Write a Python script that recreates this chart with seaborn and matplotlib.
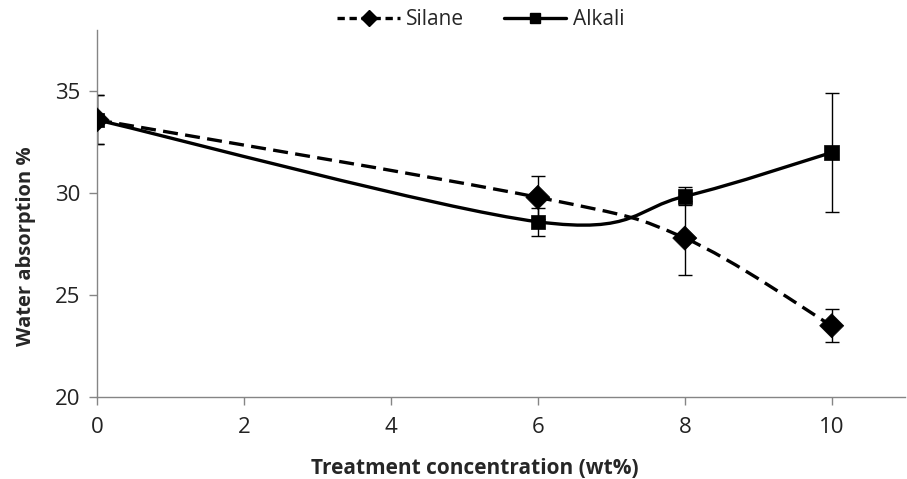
import numpy as np
import pandas as pd
import matplotlib
matplotlib.use("Agg")
import matplotlib.pyplot as plt
from matplotlib.path import Path
from matplotlib.patches import PathPatch
from matplotlib.lines import Line2D
import seaborn as sns

# Data
concentration = [0, 6, 8, 10]
silane = [33.6, 29.8, 27.8, 23.5]
silane_err = [1.2, 1.05, 1.8, 0.8]
alkali = [33.6, 28.6, 29.85, 32.0]
alkali_err = [1.2, 0.7, 0.45, 2.9]
xticks = [0, 2, 4, 6, 8, 10]
yticks = [20, 25, 30, 35]

sns.set_theme(style="white")
plt.rcParams["font.family"] = ["Open Sans", "DejaVu Sans"]

AXIS_GREY = "#858585"


def smooth_path(xs, ys):
    # Excel style smoothed line: cubic bezier with 1/6 tangent control points
    pts = np.column_stack([xs, ys]).astype(float)
    n = len(pts)
    verts = [pts[0]]
    codes = [Path.MOVETO]
    for i in range(n - 1):
        p_prev = pts[max(i - 1, 0)]
        p0, p1 = pts[i], pts[i + 1]
        p_next = pts[min(i + 2, n - 1)]
        c1 = p0 + (p1 - p_prev) / 6.0
        c2 = p1 - (p_next - p0) / 6.0
        verts += [c1, c2, p1]
        codes += [Path.CURVE4] * 3
    return Path(verts, codes)


fig, ax = plt.subplots(figsize=(9.07, 4.79), dpi=100)
fig.subplots_adjust(left=0.107, right=0.998, bottom=0.171, top=0.937)

series = [
    ("Silane", silane, silane_err, (0, (4.5, 2.2))),
    ("Alkali", alkali, alkali_err, "-"),
]

for name, vals, err, ls in series:
    ax.errorbar(concentration, vals, yerr=err, fmt="none", ecolor="black",
                elinewidth=1.0, capsize=5, capthick=1.0, zorder=2)
    patch = PathPatch(smooth_path(concentration, vals), facecolor="none",
                      edgecolor="black", lw=2.4, linestyle=ls, zorder=3)
    ax.add_patch(patch)

df = pd.DataFrame({
    "x": concentration * 2,
    "y": silane + alkali,
    "series": ["Silane"] * 4 + ["Alkali"] * 4,
})
sns.scatterplot(data=df, x="x", y="y", style="series",
                markers={"Silane": "D", "Alkali": "s"},
                size="series", sizes={"Silane": 150, "Alkali": 110},
                color="black", edgecolor="black", linewidth=0.5,
                legend=False, ax=ax, zorder=4)

ax.set_xlim(0, 11)
ax.set_ylim(20, 38)
ax.set_xticks(xticks)
ax.set_yticks(yticks)
ax.tick_params(axis="both", which="major", direction="out", length=6,
               width=1.0, color=AXIS_GREY, labelsize=16, labelcolor="#222222",
               bottom=True, left=True)
ax.tick_params(axis="x", pad=8)
ax.tick_params(axis="y", pad=6)
for side in ["top", "right"]:
    ax.spines[side].set_visible(False)
for side in ["left", "bottom"]:
    ax.spines[side].set_color(AXIS_GREY)
    ax.spines[side].set_linewidth(1.0)

ax.set_xlabel("Treatment concentration (wt%)", fontsize=15, fontweight="bold")
ax.set_ylabel("Water absorption %", fontsize=14.5, fontweight="bold")
ax.xaxis.set_label_coords(0.468, -0.165)
ax.yaxis.set_label_coords(-0.076, 0.41)
ax.grid(False)

handles = [
    Line2D([], [], color="black", lw=2.4, linestyle=(0, (2.2, 1.4)),
           marker="D", markersize=8),
    Line2D([], [], color="black", lw=2.4, linestyle="-",
           marker="s", markersize=7),
]
fig.legend(handles, ["Silane", "Alkali"], loc="upper center",
           bbox_to_anchor=(0.53, 1.02), ncol=2, frameon=False, fontsize=15,
           handlelength=3.0, columnspacing=1.9, handletextpad=0.3)

fig.savefig("out.png", dpi=100, facecolor="white")
